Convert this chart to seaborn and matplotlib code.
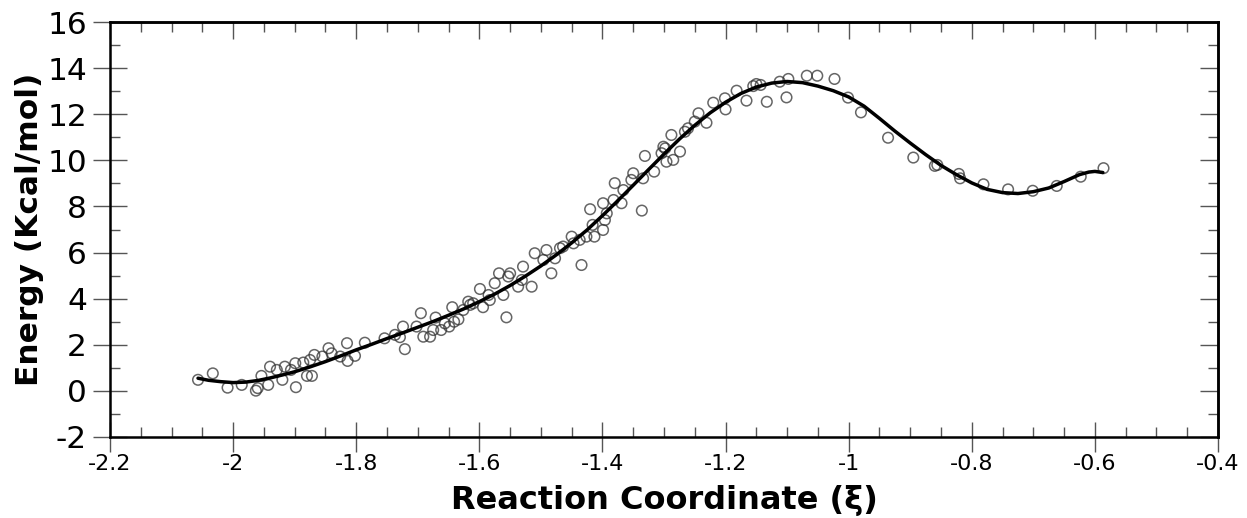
import numpy as np
import pandas as pd
import matplotlib
matplotlib.use("Agg")
import matplotlib.pyplot as plt
import seaborn as sns
from matplotlib.ticker import MultipleLocator

# ---- data ----
sample_x = [-2.057, -2.033, -2.009, -1.986, -1.963, -1.960, -1.954, -1.943, -1.940, -1.929,
            -1.920, -1.916, -1.906, -1.898, -1.899, -1.886, -1.880, -1.872, -1.875, -1.868,
            -1.855, -1.845, -1.840, -1.826, -1.815, -1.814, -1.802, -1.786,
            -1.754, -1.737, -1.724, -1.721, -1.729, -1.702, -1.695, -1.691, -1.680, -1.675,
            -1.671, -1.662, -1.656, -1.649, -1.644, -1.641, -1.634, -1.626, -1.618, -1.615,
            -1.610, -1.599, -1.594, -1.585, -1.583, -1.575, -1.568, -1.561, -1.556, -1.553,
            -1.550, -1.537, -1.531, -1.529, -1.515,
            -1.510, -1.496, -1.491, -1.483, -1.477, -1.469, -1.464, -1.450, -1.447, -1.434,
            -1.437, -1.426, -1.420, -1.416, -1.413, -1.399, -1.399, -1.396, -1.393, -1.380,
            -1.382, -1.369, -1.366, -1.350, -1.353, -1.336, -1.334, -1.331, -1.316, -1.301,
            -1.304,
            -1.298, -1.296, -1.285, -1.274, -1.288, -1.266, -1.261, -1.250, -1.244, -1.231,
            -1.220, -1.201, -1.200, -1.182, -1.166, -1.155, -1.150, -1.143, -1.133, -1.112,
            -1.101, -1.098, -1.068, -1.051,
            -1.023, -1.001, -0.980, -0.936, -0.895, -0.860, -0.856, -0.821,
            -0.819, -0.781, -0.741, -0.701, -0.662, -0.623, -0.586]
sample_energy = [0.48, 0.76, 0.14, 0.26, 0.01, 0.12, 0.65, 0.26, 1.05, 0.91,
                 0.48, 1.05, 0.91, 0.16, 1.20, 1.23, 0.65, 0.65, 1.34, 1.56,
                 1.49, 1.85, 1.63, 1.49, 2.07, 1.30, 1.52, 2.09,
                 2.28, 2.43, 2.79, 1.81, 2.33, 2.79, 3.37, 2.35, 2.35, 2.64,
                 3.18, 2.64, 2.93, 2.79, 3.63, 3.00, 3.10, 3.51, 3.87, 3.73,
                 3.80, 4.42, 3.63, 4.16, 3.94, 4.67, 5.10, 4.16, 3.19, 4.96,
                 5.10, 4.52, 4.81, 5.39, 4.52,
                 5.97, 5.68, 6.11, 5.10, 5.75, 6.19, 6.26, 6.69, 6.40, 5.46,
                 6.55, 6.69, 7.88, 7.20, 6.69, 8.14, 6.98, 7.41, 7.70, 9.01,
                 8.28, 8.14, 8.71, 9.44, 9.15, 7.82, 9.22, 10.19, 9.51, 10.59,
                 10.31,
                 10.52, 9.94, 10.02, 10.38, 11.10, 11.24, 11.39, 11.68, 12.04, 11.63,
                 12.50, 12.69, 12.21, 13.02, 12.59, 13.22, 13.31, 13.27, 12.54, 13.41,
                 12.73, 13.53, 13.67, 13.67,
                 13.53, 12.72, 12.08, 10.98, 10.12, 9.76, 9.80, 9.41,
                 9.22, 8.96, 8.74, 8.68, 8.89, 9.29, 9.66]

fit_x = [-2.057, -2.04, -2.02, -2.0, -1.98, -1.96, -1.94, -1.92, -1.9, -1.875,
         -1.85, -1.825, -1.8, -1.775, -1.75, -1.725, -1.7, -1.675, -1.65, -1.625,
         -1.6, -1.575, -1.55, -1.525, -1.5, -1.475, -1.45, -1.425, -1.4, -1.375,
         -1.35, -1.325, -1.3, -1.275, -1.25, -1.225, -1.2, -1.175, -1.15, -1.125,
         -1.1, -1.075, -1.05, -1.025, -1.0, -0.975, -0.95, -0.925, -0.9, -0.875,
         -0.85, -0.825, -0.8, -0.775, -0.75, -0.725, -0.7, -0.675, -0.65, -0.625,
         -0.61, -0.6, -0.587]
fit_energy = [0.55, 0.46, 0.40, 0.36, 0.38, 0.45, 0.56, 0.69, 0.83, 1.04,
              1.27, 1.52, 1.78, 2.02, 2.27, 2.51, 2.76, 3.01, 3.28, 3.56,
              3.87, 4.20, 4.57, 4.98, 5.42, 5.90, 6.42, 6.98, 7.60, 8.25,
              8.92, 9.60, 10.27, 10.92, 11.52, 12.06, 12.52, 12.90, 13.18, 13.35,
              13.42, 13.37, 13.22, 13.02, 12.75, 12.35, 11.82, 11.27, 10.75, 10.25,
              9.78, 9.38, 9.02, 8.74, 8.60, 8.56, 8.64, 8.80, 9.08, 9.38,
              9.49, 9.52, 9.47]

x_ticks = [-2.2, -2.0, -1.8, -1.6, -1.4, -1.2, -1.0, -0.8, -0.6, -0.4]
x_tick_labels = ["-2.2", "-2", "-1.8", "-1.6", "-1.4", "-1.2", "-1", "-0.8", "-0.6", "-0.4"]
y_ticks = [-2, 0, 2, 4, 6, 8, 10, 12, 14, 16]
y_tick_labels = ["-2", "0", "2", "4", "6", "8", "10", "12", "14", "16"]

x_label = "Reaction Coordinate (\u03be)"
y_label = "Energy (Kcal/mol)"

# ---- figure ----
sns.set_theme(style="white")
plt.rcParams['font.family'] = ['DejaVu Sans']
plt.rcParams['axes.unicode_minus'] = False

fig = plt.figure(figsize=(12.47, 5.18), dpi=100)
ax = fig.add_axes([110 / 1247, 81 / 518, 1108 / 1247, 415 / 518])

samples = pd.DataFrame({"x": sample_x, "E": sample_energy})
fit = pd.DataFrame({"x": fit_x, "E": fit_energy})

sns.scatterplot(data=samples, x="x", y="E", ax=ax, marker="o", s=58,
                facecolor="none", edgecolor=(0.2, 0.2, 0.2, 0.75), linewidth=1.1,
                zorder=2)
sns.lineplot(data=fit, x="x", y="E", ax=ax, color="black", linewidth=2.5,
             sort=False, zorder=3)

ax.set_xlim(-2.2, -0.4)
ax.set_ylim(-2, 16)
ax.set_xticks(x_ticks)
ax.set_xticklabels(x_tick_labels, fontsize=16, color="black")
ax.set_yticks(y_ticks)
ax.set_yticklabels(y_tick_labels, fontsize=22.5, color="black")
ax.xaxis.set_minor_locator(MultipleLocator(0.05))
ax.yaxis.set_minor_locator(MultipleLocator(1))

tick_col = "#555555"
ax.tick_params(axis="x", which="major", direction="inout", length=22, width=1,
               color=tick_col, bottom=True, top=False, pad=1)
ax.tick_params(axis="y", which="major", direction="inout", length=25, width=1,
               color=tick_col, left=True, right=False, pad=4)
ax.tick_params(axis="both", which="minor", direction="in", length=7, width=1,
               color=tick_col)
ax.tick_params(axis="x", which="minor", bottom=True, top=False)
ax.tick_params(axis="y", which="minor", left=True, right=False)

for s in ax.spines.values():
    s.set_color("black")
    s.set_linewidth(1.8)

# top and right ticks (inside only)
top = ax.secondary_xaxis("top")
top.set_xticks(x_ticks)
top.xaxis.set_minor_locator(MultipleLocator(0.05))
top.tick_params(which="major", direction="in", length=12, width=1, color=tick_col, labeltop=False)
top.tick_params(which="minor", direction="in", length=7, width=1, color=tick_col)
top.spines["top"].set_linewidth(1.8)
top.spines["top"].set_color("black")

right = ax.secondary_yaxis("right")
right.set_yticks(y_ticks)
right.yaxis.set_minor_locator(MultipleLocator(1))
right.tick_params(which="major", direction="in", length=13, width=1, color=tick_col, labelright=False)
right.tick_params(which="minor", direction="in", length=7, width=1, color=tick_col)
right.spines["right"].set_linewidth(1.8)
right.spines["right"].set_color("black")

ax.set_xlabel(x_label, fontsize=23, fontweight="bold", color="black", labelpad=8)
ax.set_ylabel(y_label, fontsize=22.5, fontweight="bold", color="black", labelpad=2)
ax.grid(False)

fig.savefig("out.png", dpi=100, facecolor="white")
